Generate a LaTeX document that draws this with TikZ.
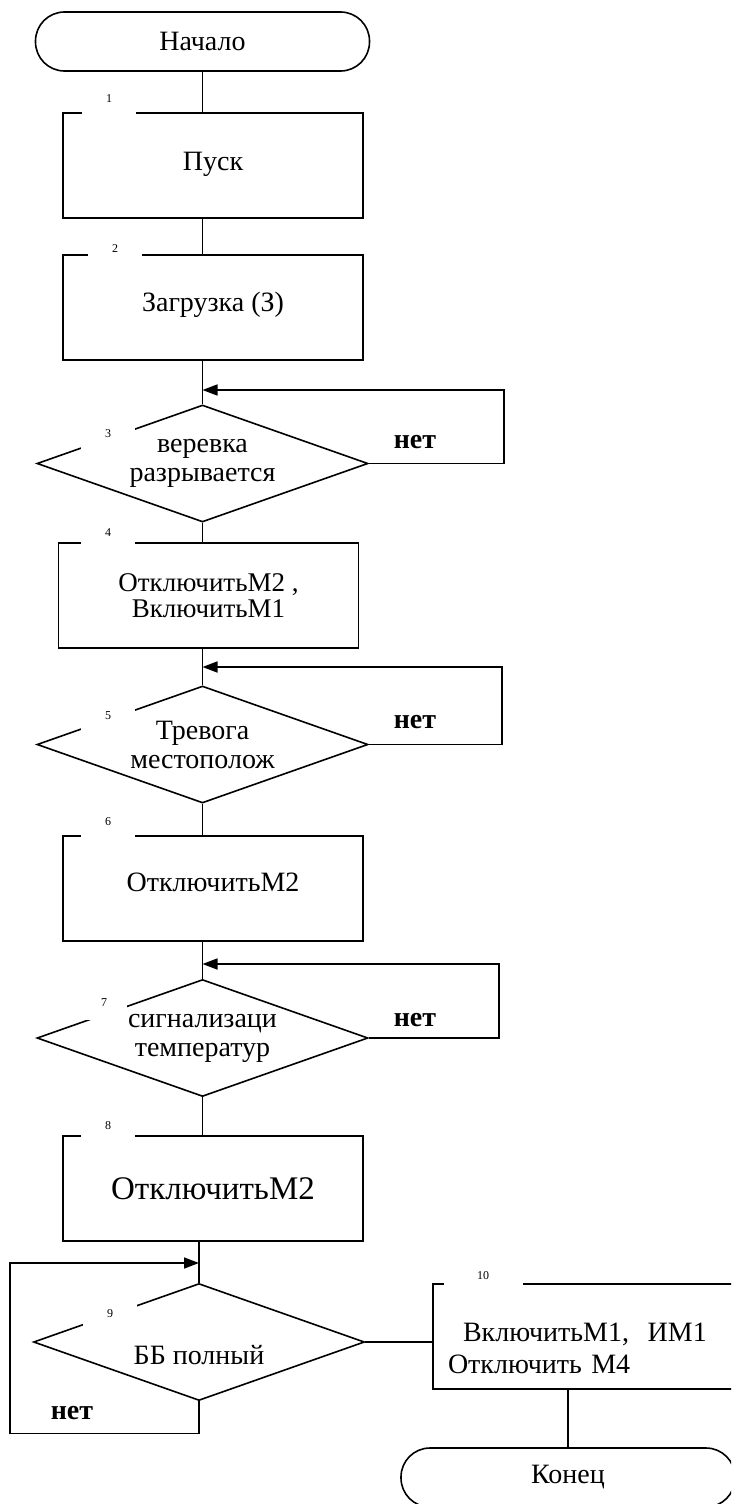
\documentclass[tikz,border=0pt]{standalone}
\usepackage{fontspec}
\setmainfont{Liberation Serif}
\usetikzlibrary{shapes,arrows.meta}

\begin{document}
\begin{tikzpicture}[x=1pt,y=-1pt]
	\tikzset{every node/.style={font=\fontsize{28}{29}\selectfont}}
	\tikzset{term/.style={draw,line width=1.6pt,rounded corners=29pt,minimum width=334pt,minimum height=59pt,inner sep=0pt}}
	\tikzset{proc/.style={draw,line width=1.6pt,minimum width=300pt,minimum height=105pt,inner sep=0pt,align=center}}
	\tikzset{cond/.style={draw,line width=1.6pt,diamond,aspect=2.83,minimum width=331pt,minimum height=117pt,inner sep=0pt,align=center}}
	\tikzset{numlabel/.style={fill=white,inner sep=0pt,minimum width=54pt,text height=14pt,text depth=14pt,anchor=base,font=\fontsize{12}{12}\selectfont}}
	\tikzset{nolabel/.style={font=\fontsize{28}{29}\selectfont\bfseries}}
	\tikzset{flow/.style={line width=1.6pt}}
	\tikzset{loopback/.style={flow,-{Triangle[length=15pt,width=11pt]}}}
	\useasboundingbox (0,0) rectangle (731,1504);
	\clip (0,0) rectangle (731,1504);
	% blocks
	\node[term] (start) at (202.5,41.5) {Начало};
	\node[proc,text height=20pt,text depth=10pt] (p1) at (213,165.5) {Пуск};
	\node[proc,text height=20pt,text depth=12pt] (p2) at (213,307.5) {Загрузка (З)};
	\node[cond] (d3) at (202.5,463.5) {веревка\\разрывается};
	\node[proc,font=\fontsize{27}{26}\selectfont] (p4) at (208.5,595.5) {ОтключитьМ2 ,\\ВключитьМ1};
	\node[cond] (d5) at (202.5,744.5) {Тревога\\местополож};
	\node[proc,text height=20pt,text depth=14pt] (p6) at (213,888.5) {ОтключитьМ2};
	\node[cond] (d7) at (202.5,1038) {сигнализаци\\температур};
	\node[proc,font=\fontsize{33}{36}\selectfont] (p8) at (213,1188.5) {ОтключитьМ2};
	\node[cond,text height=50pt,text depth=6pt] (d9) at (199,1342) {ББ полный};
	\node[proc,text width=270pt,align=left,font=\fontsize{28}{32}\selectfont] (p10) at (583,1336.5)
		{\rule{0pt}{43pt}\hspace*{15pt}ВключитьМ1,\ \ ИМ1\\Отключить М4};
	\node[term] (end) at (568,1477.5) {Конец};
	% connectors
	\coordinate (j3) at (202.5,390);
	\coordinate (j5) at (202.5,667);
	\coordinate (j7) at (202.5,964);
	\coordinate (j9) at (199,1263);
	\draw[flow] (start.south) -- (start.south |- p1.north);
	\draw[flow] (p1.south -| start) -- (p2.north -| start);
	\draw[flow] (p2.south -| d3) -- (d3.north);
	\draw[flow] (d3.south) -- (d3.south |- p4.north);
	\draw[flow] (p4.south -| d5) -- (d5.north);
	\draw[flow] (d5.south) -- (d5.south |- p6.north);
	\draw[flow] (p6.south -| d7) -- (d7.north);
	\draw[flow] (d7.south) -- (d7.south |- p8.north);
	\draw[flow] (p8.south -| d9) -- (d9.north);
	\draw[flow] (d9.east) -- (d9.east -| p10.west);
	\draw[flow] (end.north |- p10.south) -- (end.north);
	\draw[loopback] (d3.east) -- ++(135,0) |- (j3);
	\draw[loopback] (d5.east) -- ++(133,0) |- (j5);
	\draw[loopback] (d7.east) -- ++(130,0) |- (j7);
	\draw[loopback] (d9.south) -- ++(0,32) -| ([xshift=-189pt]j9) -- (j9);
	% no-branch labels
	\node[nolabel] (no3) at (415,442) {нет};
	\node[nolabel] (no5) at (415,722) {нет};
	\node[nolabel] (no7) at (415,1020) {нет};
	\node[nolabel] (no9) at (72,1413) {нет};
	% block numbers
	\node[numlabel] (n1) at (109,102) {1};
	\node[numlabel] (n2) at (115,252) {2};
	\node[numlabel] (n3) at (108,437) {3};
	\node[numlabel] (n4) at (108,536) {4};
	\node[numlabel] (n5) at (108,719) {5};
	\node[numlabel] (n6) at (108,825) {6};
	\node[numlabel,minimum width=46pt] (n7) at (104,1006) {7};
	\node[numlabel] (n8) at (108,1129) {8};
	\node[numlabel] (n9) at (110,1317) {9};
	\node[numlabel,minimum width=79pt] (n10) at (483,1279) {10};
\end{tikzpicture}
\end{document}
